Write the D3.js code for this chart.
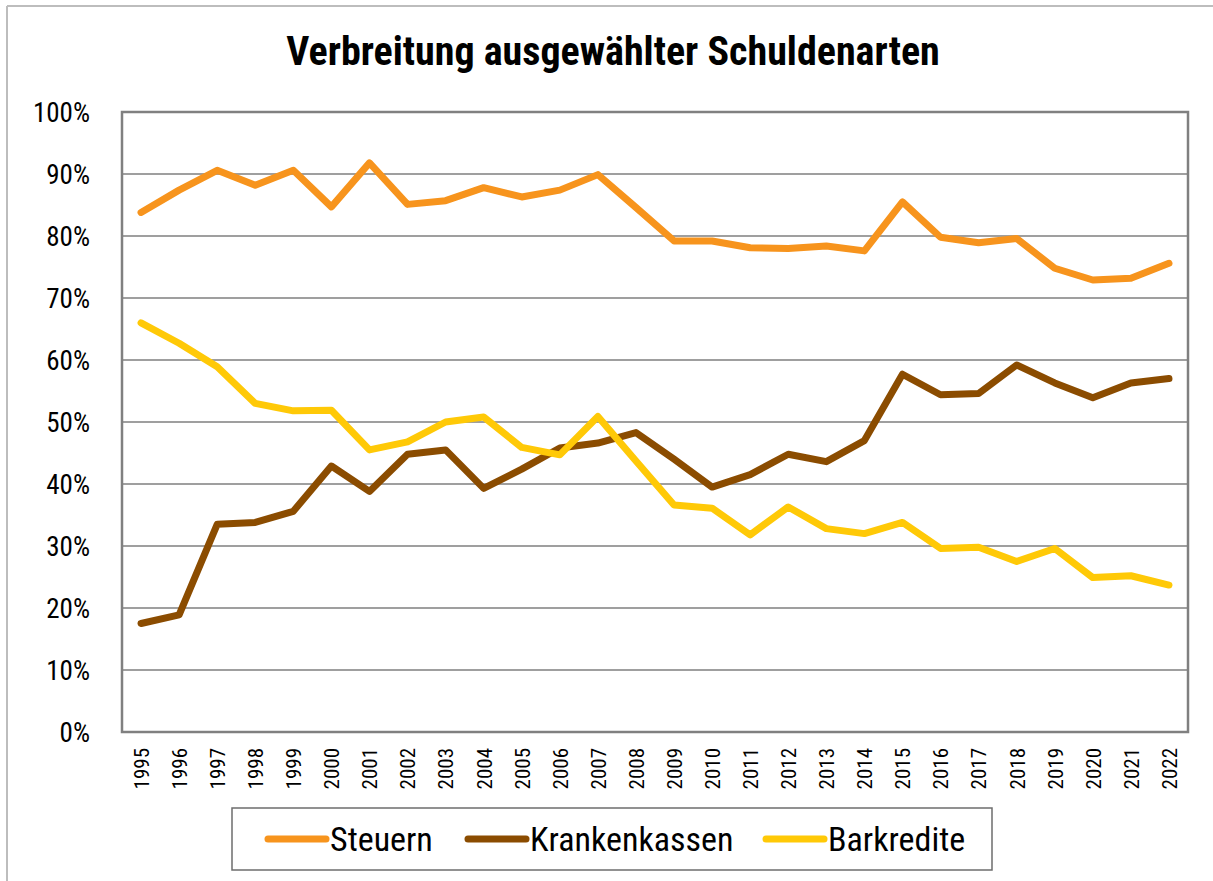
<!DOCTYPE html>
<html>
<head>
<meta charset="utf-8">
<script src="https://cdnjs.cloudflare.com/ajax/libs/d3/7.8.5/d3.min.js"></script>
<style>
  body { margin: 0; background: #fff; }
  svg text { font-family: "Liberation Sans Narrow", "Arial Narrow", "Roboto Condensed", sans-serif; }
</style>
</head>
<body>
<svg id="chart" width="1213" height="881"></svg>
<script>
// years on the x axis
var years = ["1995","1996","1997","1998","1999","2000","2001","2002","2003","2004",
             "2005","2006","2007","2008","2009","2010","2011","2012","2013","2014",
             "2015","2016","2017","2018","2019","2020","2021","2022"];

// series values in percent
var steuern = [83.8, 87.4, 90.6, 88.2, 90.6, 84.7, 91.8, 85.1, 85.7, 87.8,
               86.3, 87.4, 89.9, 84.6, 79.2, 79.2, 78.1, 78.0, 78.4, 77.6,
               85.5, 79.8, 78.9, 79.6, 74.8, 72.9, 73.2, 75.6];
var krankenkassen = [17.5, 18.9, 33.5, 33.8, 35.6, 42.9, 38.8, 44.8, 45.5, 39.3,
                     42.4, 45.8, 46.6, 48.3, 44.0, 39.5, 41.5, 44.8, 43.6, 47.0,
                     57.7, 54.4, 54.6, 59.2, 56.3, 53.9, 56.3, 57.0];
var barkredite = [66.0, 62.7, 58.9, 53.0, 51.8, 51.9, 45.5, 46.8, 50.0, 50.8,
                  45.9, 44.7, 50.9, 43.7, 36.6, 36.1, 31.8, 36.3, 32.8, 32.0,
                  33.8, 29.6, 29.8, 27.5, 29.6, 24.9, 25.2, 23.7];

var yTicks = [0, 10, 20, 30, 40, 50, 60, 70, 80, 90, 100];

var seriesNames = ["Steuern", "Krankenkassen", "Barkredite"];
var seriesColors = ["#F7941D", "#8B4C00", "#FFC907"];
var seriesData = [steuern, krankenkassen, barkredite];

var svg = d3.select("#chart");

// plot area
var plotLeft = 122, plotRight = 1188, plotTop = 112, plotBottom = 732;

var x = d3.scalePoint()
    .domain(years)
    .range([plotLeft, plotRight])
    .padding(0.5);

var y = d3.scaleLinear()
    .domain([0, 100])
    .range([plotBottom, plotTop]);

// outer frame (only top and left edges visible)
svg.append("line").attr("x1", 7).attr("x2", 1213).attr("y1", 6).attr("y2", 6)
    .attr("stroke", "#bdbdbd").attr("stroke-width", 2);
svg.append("line").attr("x1", 7).attr("x2", 7).attr("y1", 6).attr("y2", 881)
    .attr("stroke", "#bdbdbd").attr("stroke-width", 2);

// title
svg.append("text")
    .attr("x", 613).attr("y", 65)
    .attr("text-anchor", "middle")
    .attr("font-size", 40)
    .attr("font-weight", "bold")
    .text("Verbreitung ausgewählter Schuldenarten");

// gridlines
svg.append("g").selectAll("line")
    .data(yTicks.filter(function(d){ return d > 0 && d < 100; }))
    .join("line")
    .attr("x1", plotLeft).attr("x2", plotRight)
    .attr("y1", function(d){ return y(d); })
    .attr("y2", function(d){ return y(d); })
    .attr("stroke", "#404040")
    .attr("stroke-width", 1.2);

// y axis labels
var yAxis = d3.axisLeft(y)
    .tickValues(yTicks)
    .tickSize(0)
    .tickPadding(0)
    .tickFormat(function(d){ return d + "%"; });

var gy = svg.append("g")
    .attr("transform", "translate(90,0)")
    .call(yAxis);
gy.select(".domain").remove();
gy.selectAll("text")
    .attr("font-size", 27)
    .attr("font-family", null)
    .attr("fill", "#000")
    .attr("dy", "0.35em");

// x axis labels, rotated
var xAxis = d3.axisBottom(x).tickSize(0).tickPadding(0);
var gx = svg.append("g")
    .attr("transform", "translate(0," + plotBottom + ")")
    .call(xAxis);
gx.select(".domain").remove();
gx.selectAll("text")
    .attr("font-size", 21)
    .attr("fill", "#000")
    .attr("text-anchor", "end")
    .attr("transform", "rotate(-90)")
    .attr("x", -16)
    .attr("y", 0)
    .attr("dy", "0.35em");
gy.attr("font-family", null);
gx.attr("font-family", null);

// plot border
svg.append("rect")
    .attr("x", plotLeft).attr("y", plotTop)
    .attr("width", plotRight - plotLeft).attr("height", plotBottom - plotTop)
    .attr("fill", "none")
    .attr("stroke", "#808080")
    .attr("stroke-width", 2.5);

// lines
var line = d3.line()
    .x(function(d, i){ return x(years[i]); })
    .y(function(d){ return y(d); });

svg.append("g").selectAll("path")
    .data(seriesData)
    .join("path")
    .attr("d", line)
    .attr("fill", "none")
    .attr("stroke", function(d, i){ return seriesColors[i]; })
    .attr("stroke-width", 7)
    .attr("stroke-linecap", "round")
    .attr("stroke-linejoin", "round");

// legend
var legend = svg.append("g");
legend.append("rect")
    .attr("x", 232).attr("y", 808)
    .attr("width", 760).attr("height", 62)
    .attr("fill", "#fff")
    .attr("stroke", "#6d6d6d")
    .attr("stroke-width", 1.5);

var legendX = [268, 468, 766];
var items = legend.selectAll("g.item")
    .data(seriesNames)
    .join("g")
    .attr("class", "item")
    .attr("transform", function(d, i){ return "translate(" + legendX[i] + ",839)"; });

items.append("line")
    .attr("x1", 0).attr("x2", 58)
    .attr("stroke", function(d, i){ return seriesColors[i]; })
    .attr("stroke-width", 7)
    .attr("stroke-linecap", "round");

items.append("text")
    .attr("x", 62)
    .attr("dy", "0.35em")
    .attr("font-size", 34)
    .text(function(d){ return d; });
</script>
</body>
</html>
